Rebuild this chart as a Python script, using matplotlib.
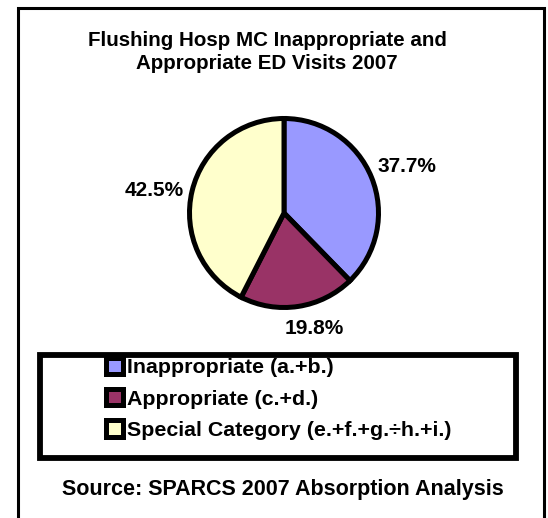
import matplotlib
matplotlib.use("Agg")
import matplotlib.pyplot as plt
import numpy as np
from matplotlib.patches import Rectangle

# data
categories = ["Inappropriate (a.+b.)", "Appropriate (c.+d.)",
              "Special Category (e.+f.+g.\u00f7h.+i.)"]
shares = [37.7, 19.8, 42.5]
colors = ["#9999FF", "#993366", "#FFFFCC"]
title = "Flushing Hosp MC Inappropriate and\nAppropriate ED Visits 2007"
source = "Source: SPARCS 2007 Absorption Analysis"

W, H = 548, 518
plt.rcParams["font.family"] = ["Liberation Sans", "DejaVu Sans"]
plt.rcParams["font.weight"] = "bold"

fig = plt.figure(figsize=(W / 100, H / 100), dpi=100)


def fx(px):
    return px / W


def fy(py):
    return 1 - py / H


# outer chart frame (bottom runs off the image)
fig.add_artist(Rectangle((fx(17.5), -0.05), fx(543.5) - fx(17.5), fy(8) + 0.05,
                         transform=fig.transFigure, fill=False, ec="black",
                         lw=2.2, clip_on=False))

fig.text(fx(267), fy(31), title, ha="center", va="top", fontsize=14.8,
         fontweight="bold", linespacing=1.25)

# pie
cx, cy, r = 284, 213, 94.5
ax = fig.add_axes([fx(cx - r), fy(cy + r), 2 * r / W, 2 * r / H])
wedges, _ = ax.pie(shares, colors=colors, startangle=90, counterclock=False,
                   radius=1.0,
                   wedgeprops=dict(edgecolor="black", linewidth=3.6))
ax.set_xlim(-1, 1)
ax.set_ylim(-1, 1)
ax.set_aspect("equal")
ax.axis("off")

# percentage labels outside the slices: (distance, angle shift in degrees)
label_place = [(1.39, -1.6), (1.26, 6.3), (1.40, 3.5)]
for w, v, (d, shift) in zip(wedges, shares, label_place):
    ang = np.deg2rad((w.theta1 + w.theta2) / 2 + shift)
    ax.text(d * np.cos(ang), d * np.sin(ang), f"{v:.1f}%", ha="center",
            va="center", fontsize=15, fontweight="bold", clip_on=False)

# legend box
fig.add_artist(Rectangle((fx(39.5), fy(457.5)), fx(515.5) - fx(39.5),
                         fy(354.5) - fy(457.5), transform=fig.transFigure,
                         fill=False, ec="black", lw=4.2, clip_on=False))
fig.legend(wedges, categories, loc="upper left",
           bbox_to_anchor=(fx(106), fy(358)), frameon=False,
           prop=dict(size=15.4, weight="bold"), handlelength=0.78,
           handleheight=0.78, handletextpad=0.2, labelspacing=0.55,
           borderpad=0, borderaxespad=0)

fig.text(fx(282.5), fy(489), source, ha="center", va="center", fontsize=15.5,
         fontweight="bold")

fig.savefig("out.png", dpi=100)
